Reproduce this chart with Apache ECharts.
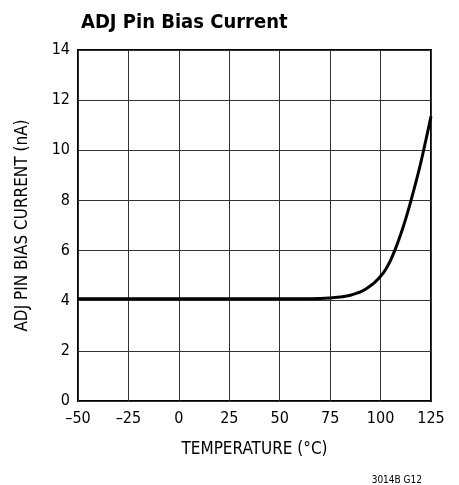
<!DOCTYPE html>
<html><head><meta charset="utf-8">
<script src="https://cdn.jsdelivr.net/npm/echarts@6/dist/echarts.min.js"></script>
<style>html,body{margin:0;padding:0;background:#fff}#c{width:459px;height:485px}</style>
</head><body><div id="c"></div>
<script>
const temperature = [-50, 0, 50, 60, 70, 75, 80, 82.5, 85, 87.5, 90, 92.5, 95, 97.5, 100, 102.5, 105, 107.5, 110, 112.5, 115, 117.5, 120, 122.5, 125];
const biasCurrent = [4.08, 4.08, 4.08, 4.08, 4.09, 4.11, 4.15, 4.18, 4.22, 4.28, 4.35, 4.46, 4.595, 4.76, 4.973, 5.248, 5.623, 6.098, 6.648, 7.273, 7.973, 8.723, 9.523, 10.423, 11.35];
const xTicks = [-50, -25, 0, 25, 50, 75, 100, 125];
const yTicks = [0, 2, 4, 6, 8, 10, 12, 14];
const font = '"DejaVu Sans Condensed", "Liberation Sans", sans-serif';

const chart = echarts.init(document.getElementById('c'), null, {renderer: 'canvas'});
chart.setOption({
  animation: false,
  title: [
    {text: 'ADJ Pin Bias Current', left: 76, top: 8, textStyle: {fontFamily: font, fontWeight: 'bold', fontSize: 20, color: '#000'}},
    {text: '3014B G12', right: 32, top: 470, textStyle: {fontFamily: font, fontWeight: 'normal', fontSize: 10, color: '#000'}}
  ],
  grid: {left: 78, right: 28, top: 50, bottom: 84, show: true, borderColor: '#000', borderWidth: 2},
  xAxis: {
    type: 'value', min: -50, max: 125, interval: 25,
    name: 'TEMPERATURE (°C)', nameLocation: 'middle', nameGap: 40,
    nameTextStyle: {fontFamily: font, fontSize: 17, color: '#000'},
    axisLine: {show: false}, axisTick: {show: false},
    axisLabel: {fontFamily: font, fontSize: 16, color: '#000', margin: 10,
      formatter: v => xTicks.includes(v) ? String(v).replace('-', '\u2013') : ''},
    splitLine: {show: true, lineStyle: {color: '#333', width: 1}}
  },
  yAxis: {
    type: 'value', min: 0, max: 14, interval: 2,
    name: 'ADJ PIN BIAS CURRENT (nA)', nameLocation: 'middle', nameGap: 47,
    nameTextStyle: {fontFamily: font, fontSize: 17, color: '#000'},
    axisLine: {show: false}, axisTick: {show: false},
    axisLabel: {fontFamily: font, fontSize: 16, color: '#000', margin: 8,
      formatter: v => yTicks.includes(v) ? String(v) : ''},
    splitLine: {show: true, lineStyle: {color: '#333', width: 1}}
  },
  series: [{
    type: 'line', data: temperature.map((t, i) => [t, biasCurrent[i]]),
    smooth: 0.3, symbol: 'none', lineStyle: {color: '#000', width: 3}
  }]
});
</script></body></html>
